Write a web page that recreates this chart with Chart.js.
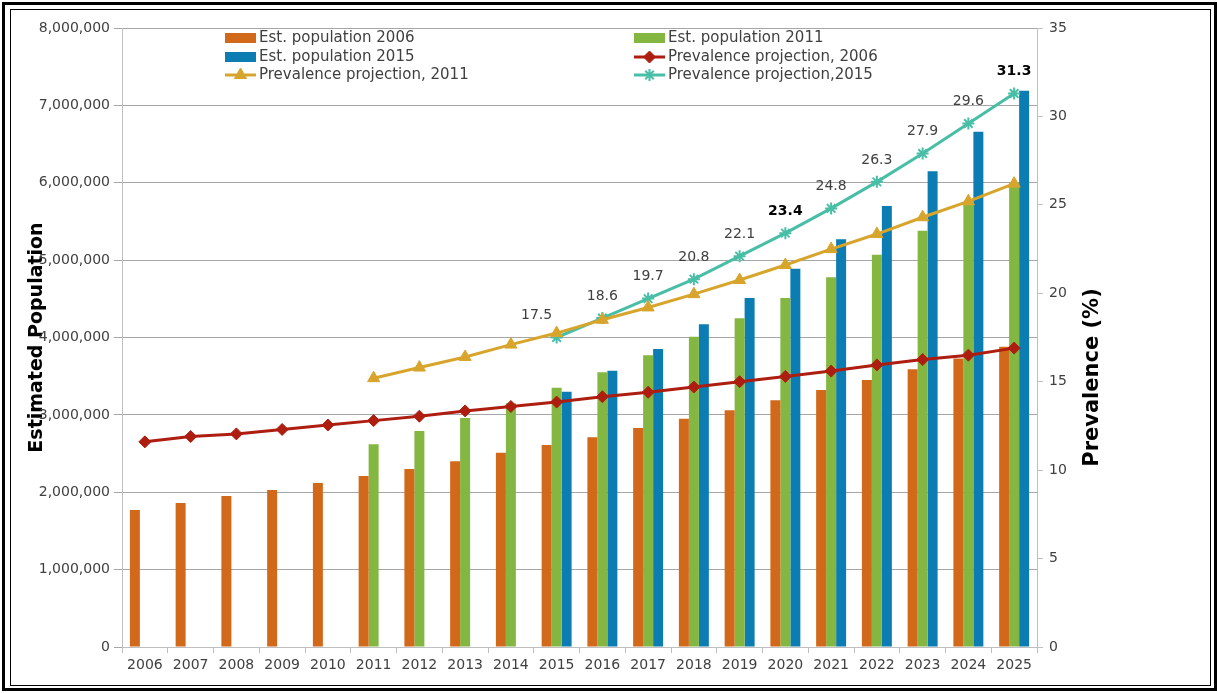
<!DOCTYPE html>
<html>
<head>
<meta charset="utf-8">
<script src="https://cdn.jsdelivr.net/npm/chart.js@4.4.1/dist/chart.umd.min.js"></script>
<style>
html, body { margin: 0; padding: 0; background: #fff; }
#wrap { position: relative; width: 1217px; height: 693px; }
#chart { position: absolute; left: 0; top: 0; }
#outer { position: absolute; left: 2px; top: 2px; width: 1209px; height: 683px; border: 3px solid #000; pointer-events: none; }
#inner { position: absolute; left: 10px; top: 9px; width: 1199px; height: 675px; border: 1px solid #000; pointer-events: none; }
</style>
</head>
<body>
<div id="wrap">
  <canvas id="chart" width="1217" height="693"></canvas>
  <div id="outer"></div>
  <div id="inner"></div>
</div>
<script>
const years = ['2006', '2007', '2008', '2009', '2010', '2011', '2012', '2013', '2014', '2015',
    '2016', '2017', '2018', '2019', '2020', '2021', '2022', '2023', '2024', '2025'];

// estimated population (left axis)
const pop2006 = [1770000, 1860000, 1950000, 2030000, 2120000, 2210000, 2300000, 2400000, 2510000, 2610000,
    2710000, 2830000, 2950000, 3060000, 3190000, 3320000, 3450000, 3590000, 3730000, 3880000];
const pop2011 = [null, null, null, null, null, 2620000, 2790000, 2960000, 3150000, 3350000,
    3550000, 3770000, 4010000, 4250000, 4510000, 4780000, 5070000, 5380000, 5720000, 6000000];
const pop2015 = [null, null, null, null, null, null, null, null, null, 3300000,
    3570000, 3850000, 4170000, 4510000, 4890000, 5270000, 5700000, 6150000, 6660000, 7190000];

// prevalence projections (right axis, %)
const prev2006 = [11.6, 11.9, 12.05, 12.3, 12.55, 12.8, 13.05, 13.35, 13.6, 13.85,
    14.15, 14.4, 14.7, 15.0, 15.3, 15.6, 15.95, 16.25, 16.5, 16.9];
const prev2011 = [null, null, null, null, null, 15.2, 15.8, 16.4, 17.1, 17.75,
    18.5, 19.2, 19.95, 20.75, 21.6, 22.5, 23.35, 24.3, 25.2, 26.2];
const prev2015 = [null, null, null, null, null, null, null, null, null, 17.5,
    18.6, 19.7, 20.8, 22.1, 23.4, 24.8, 26.3, 27.9, 29.6, 31.3];

const boldYears = ['2020', '2025'];
const rightTitle = 'Prevalence (%)';

const FONT = '"DejaVu Sans", sans-serif';
Chart.defaults.font.family = FONT;
Chart.defaults.color = '#404040';

const lineDs = (label, data, color, style, radius) => ({
    type: 'line',
    label: label,
    data: data,
    yAxisID: 'y1',
    borderColor: color,
    backgroundColor: color,
    borderWidth: 3,
    pointStyle: style,
    pointRadius: radius,
    pointBorderWidth: style === 'star' ? 2 : 1,
    pointBackgroundColor: color,
    pointBorderColor: color,
    tension: 0,
    order: 0
});

const barDs = (label, data, color) => ({
    type: 'bar',
    label: label,
    data: data,
    yAxisID: 'y',
    backgroundColor: color,
    barPercentage: 1.0,
    categoryPercentage: 0.655,
    order: 1
});

// legend drawn inside the plot, two columns
const insideLegend = {
    id: 'insideLegend',
    afterDraw(chart) {
        const ctx = chart.ctx;
        const colX = [225, 634];
        const rowY = [38, 57, 75];
        ctx.save();
        ctx.font = '15px ' + FONT;
        ctx.textBaseline = 'middle';
        chart.data.datasets.forEach((ds, i) => {
            const x = colX[i % 2];
            const y = rowY[Math.floor(i / 2)];
            if (ds.type === 'bar') {
                ctx.fillStyle = ds.backgroundColor;
                ctx.fillRect(x, y - 5, 31, 10);
            } else {
                ctx.strokeStyle = ds.borderColor;
                ctx.lineWidth = 3;
                ctx.beginPath();
                ctx.moveTo(x, y);
                ctx.lineTo(x + 31, y);
                ctx.stroke();
                ctx.fillStyle = ds.borderColor;
                ctx.lineWidth = ds.pointBorderWidth;
                Chart.helpers.drawPoint(ctx, {
                    pointStyle: ds.pointStyle,
                    radius: ds.pointRadius,
                    rotation: 0,
                    borderWidth: ds.pointBorderWidth
                }, x + 15.5, y);
            }
            ctx.fillStyle = '#404040';
            ctx.textAlign = 'left';
            ctx.fillText(ds.label, x + 34, y);
        });
        ctx.restore();
    }
};

// right axis title, reading bottom to top like the left one
const rightAxisTitle = {
    id: 'rightAxisTitle',
    afterDraw(chart) {
        const ctx = chart.ctx;
        const s = chart.scales.y1;
        ctx.save();
        ctx.translate(s.right - 12, (s.top + s.bottom) / 2 + 40);
        ctx.rotate(-Math.PI / 2);
        ctx.font = 'bold 21px ' + FONT;
        ctx.fillStyle = '#000';
        ctx.textAlign = 'center';
        ctx.textBaseline = 'middle';
        ctx.fillText(rightTitle, 0, 0);
        ctx.restore();
    }
};

// value labels on the 2015 projection
const pointLabels = {
    id: 'pointLabels',
    afterDatasetsDraw(chart) {
        const ctx = chart.ctx;
        const meta = chart.getDatasetMeta(5);
        let first = true;
        ctx.save();
        ctx.textAlign = 'center';
        ctx.textBaseline = 'middle';
        meta.data.forEach((pt, i) => {
            const v = prev2015[i];
            if (v == null) return;
            const strong = boldYears.includes(years[i]);
            ctx.font = (strong ? 'bold ' : '') + '14px ' + FONT;
            ctx.fillStyle = strong ? '#000' : '#404040';
            const dx = first ? -20 : 0;
            first = false;
            ctx.fillText(v.toFixed(1), pt.x + dx, pt.y - 22);
        });
        ctx.restore();
    }
};

new Chart(document.getElementById('chart'), {
    data: {
        labels: years,
        datasets: [
            barDs('Est. population 2006', pop2006, '#D2691A'),
            barDs('Est. population 2011', pop2011, '#84B642'),
            barDs('Est. population 2015', pop2015, '#0C7DB2'),
            lineDs('Prevalence projection, 2006', prev2006, '#AE1E10', 'rectRot', 6),
            lineDs('Prevalence projection, 2011', prev2011, '#D8A52C', 'triangle', 7),
            lineDs('Prevalence projection,2015', prev2015, '#48BEA6', 'star', 6)
        ]
    },
    options: {
        responsive: false,
        animation: false,
        layout: { padding: { left: 26, right: 112, top: 28, bottom: 12 } },
        plugins: {
            legend: { display: false },
            tooltip: { enabled: false }
        },
        scales: {
            x: {
                grid: { drawOnChartArea: false, color: '#bfbfbf', tickLength: 6 },
                border: { color: '#bfbfbf' },
                ticks: { font: { size: 14 }, color: '#404040', padding: 4 },
                afterFit: (s) => { s.height = 34; }
            },
            y: {
                position: 'left',
                min: 0,
                max: 8000000,
                ticks: {
                    stepSize: 1000000,
                    font: { size: 14 },
                    color: '#404040',
                    padding: 4,
                    callback: (v) => v.toLocaleString('en-US')
                },
                grid: { color: '#a6a6a6', tickLength: 8 },
                border: { color: '#bfbfbf' },
                title: {
                    display: true,
                    text: 'Estimated Population',
                    color: '#000',
                    font: { size: 19, weight: 'bold' },
                    padding: 0
                },
                afterFit: (s) => { s.width = 96; }
            },
            y1: {
                position: 'right',
                min: 0,
                max: 35,
                ticks: { stepSize: 5, font: { size: 14 }, color: '#404040', padding: 6 },
                grid: { drawOnChartArea: false, color: '#bfbfbf', tickLength: 6 },
                border: { color: '#bfbfbf' },
                afterFit: (s) => { s.width = 68; }
            }
        }
    },
    plugins: [insideLegend, pointLabels, rightAxisTitle]
});
</script>
</body>
</html>
